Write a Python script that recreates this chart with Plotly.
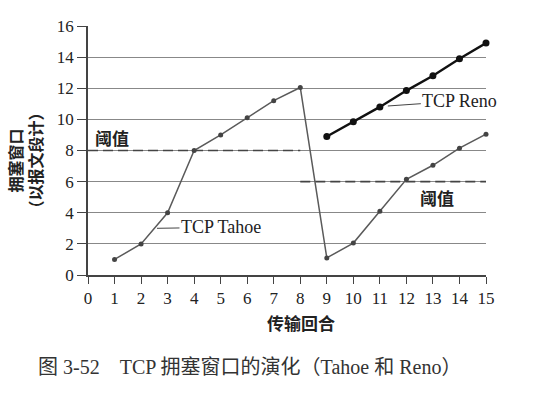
import plotly.graph_objects as go

rounds = list(range(1, 16))
tahoe = [1, 2, 4, 8, 9, 10.1, 11.2, 12.05, 1.1, 2.05, 4.1, 6.15, 7.05, 8.15, 9.05]
reno_x = [9, 10, 11, 12, 13, 14, 15]
reno = [8.9, 9.85, 10.8, 11.85, 12.8, 13.9, 14.9]
thr1_x = [0, 8]
thr1_y = [8, 8]
thr2_x = [8, 15]
thr2_y = [6, 6]
x_ticks = list(range(0, 16))
y_ticks = list(range(0, 17, 2))

SERIF = "Liberation Serif, Noto Sans CJK SC"
CJK = "Noto Sans CJK SC"

fig = go.Figure()
fig.add_trace(go.Scatter(x=thr1_x, y=thr1_y, mode="lines",
                         line=dict(color="#444", width=1.6, dash="10px,5px"), cliponaxis=False))
fig.add_trace(go.Scatter(x=thr2_x, y=thr2_y, mode="lines",
                         line=dict(color="#444", width=1.6, dash="10px,5px"), cliponaxis=False))
fig.add_trace(go.Scatter(x=rounds, y=tahoe, mode="lines+markers",
                         line=dict(color="#5a5a5a", width=1.5),
                         marker=dict(color="#444", size=5), cliponaxis=False))
fig.add_trace(go.Scatter(x=reno_x, y=reno, mode="lines+markers",
                         line=dict(color="#111", width=2.4),
                         marker=dict(color="#111", size=7), cliponaxis=False))

ann = []
ann.append(dict(x=2.6, y=3.0, xref="x", yref="y", text="TCP Tahoe", showarrow=True,
                arrowhead=0, arrowwidth=1, arrowcolor="#444", ax=64, ay=-1, standoff=0,
                font=dict(family=SERIF, size=18, color="#222")))
ann.append(dict(x=11.3, y=10.86, xref="x", yref="y", text="TCP Reno", showarrow=True,
                arrowhead=0, arrowwidth=1, arrowcolor="#444", ax=72, ay=-5, standoff=0,
                font=dict(family=SERIF, size=18, color="#222")))
ann.append(dict(x=0.9, y=8.85, xref="x", yref="y", text="<b>阈值</b>", showarrow=False,
                font=dict(family=CJK, size=17, color="#222")))
ann.append(dict(x=13.15, y=5.0, xref="x", yref="y", text="<b>阈值</b>", showarrow=False,
                font=dict(family=CJK, size=17, color="#222")))
ann.append(dict(x=0, y=0.46, xref="paper", yref="paper", xshift=-63, text="<b>拥塞窗口<br>（以报文段计）</b>",
                showarrow=False, textangle=-90, xanchor="center", yanchor="middle",
                font=dict(family=CJK, size=16, color="#222")))
ann.append(dict(x=0.535, y=0, xref="paper", yref="paper", yshift=-47, text="<b>传输回合</b>",
                showarrow=False, xanchor="center", yanchor="middle",
                font=dict(family=CJK, size=17, color="#222")))
ann.append(dict(x=0.406, y=0, xref="paper", yref="paper", yshift=-92,
                text="图 3-52\u3000TCP 拥塞窗口的演化（Tahoe 和 Reno）",
                showarrow=False, xanchor="center", yanchor="middle",
                font=dict(family=SERIF, size=20, color="#333")))

fig.update_layout(
    width=540, height=394,
    margin=dict(l=88, r=54, t=26, b=119),
    paper_bgcolor="white", plot_bgcolor="white",
    showlegend=False,
    annotations=ann,
    xaxis=dict(range=[0, 15], tickvals=x_ticks, ticks="outside", ticklen=7, tickcolor="#444",
               showline=True, linecolor="#444", linewidth=1.5, showgrid=False, zeroline=False,
               tickfont=dict(family=SERIF, size=17, color="#222")),
    yaxis=dict(range=[0, 16], tickvals=y_ticks, ticks="outside", ticklen=9, tickcolor="#444",
               showline=True, linecolor="#444", linewidth=1.5, showgrid=True, gridcolor="#888",
               gridwidth=1, zeroline=False,
               tickfont=dict(family=SERIF, size=17, color="#222")),
)

fig.write_html("out.html", config={"displayModeBar": False},
               post_script="document.body.style.margin='0';")
